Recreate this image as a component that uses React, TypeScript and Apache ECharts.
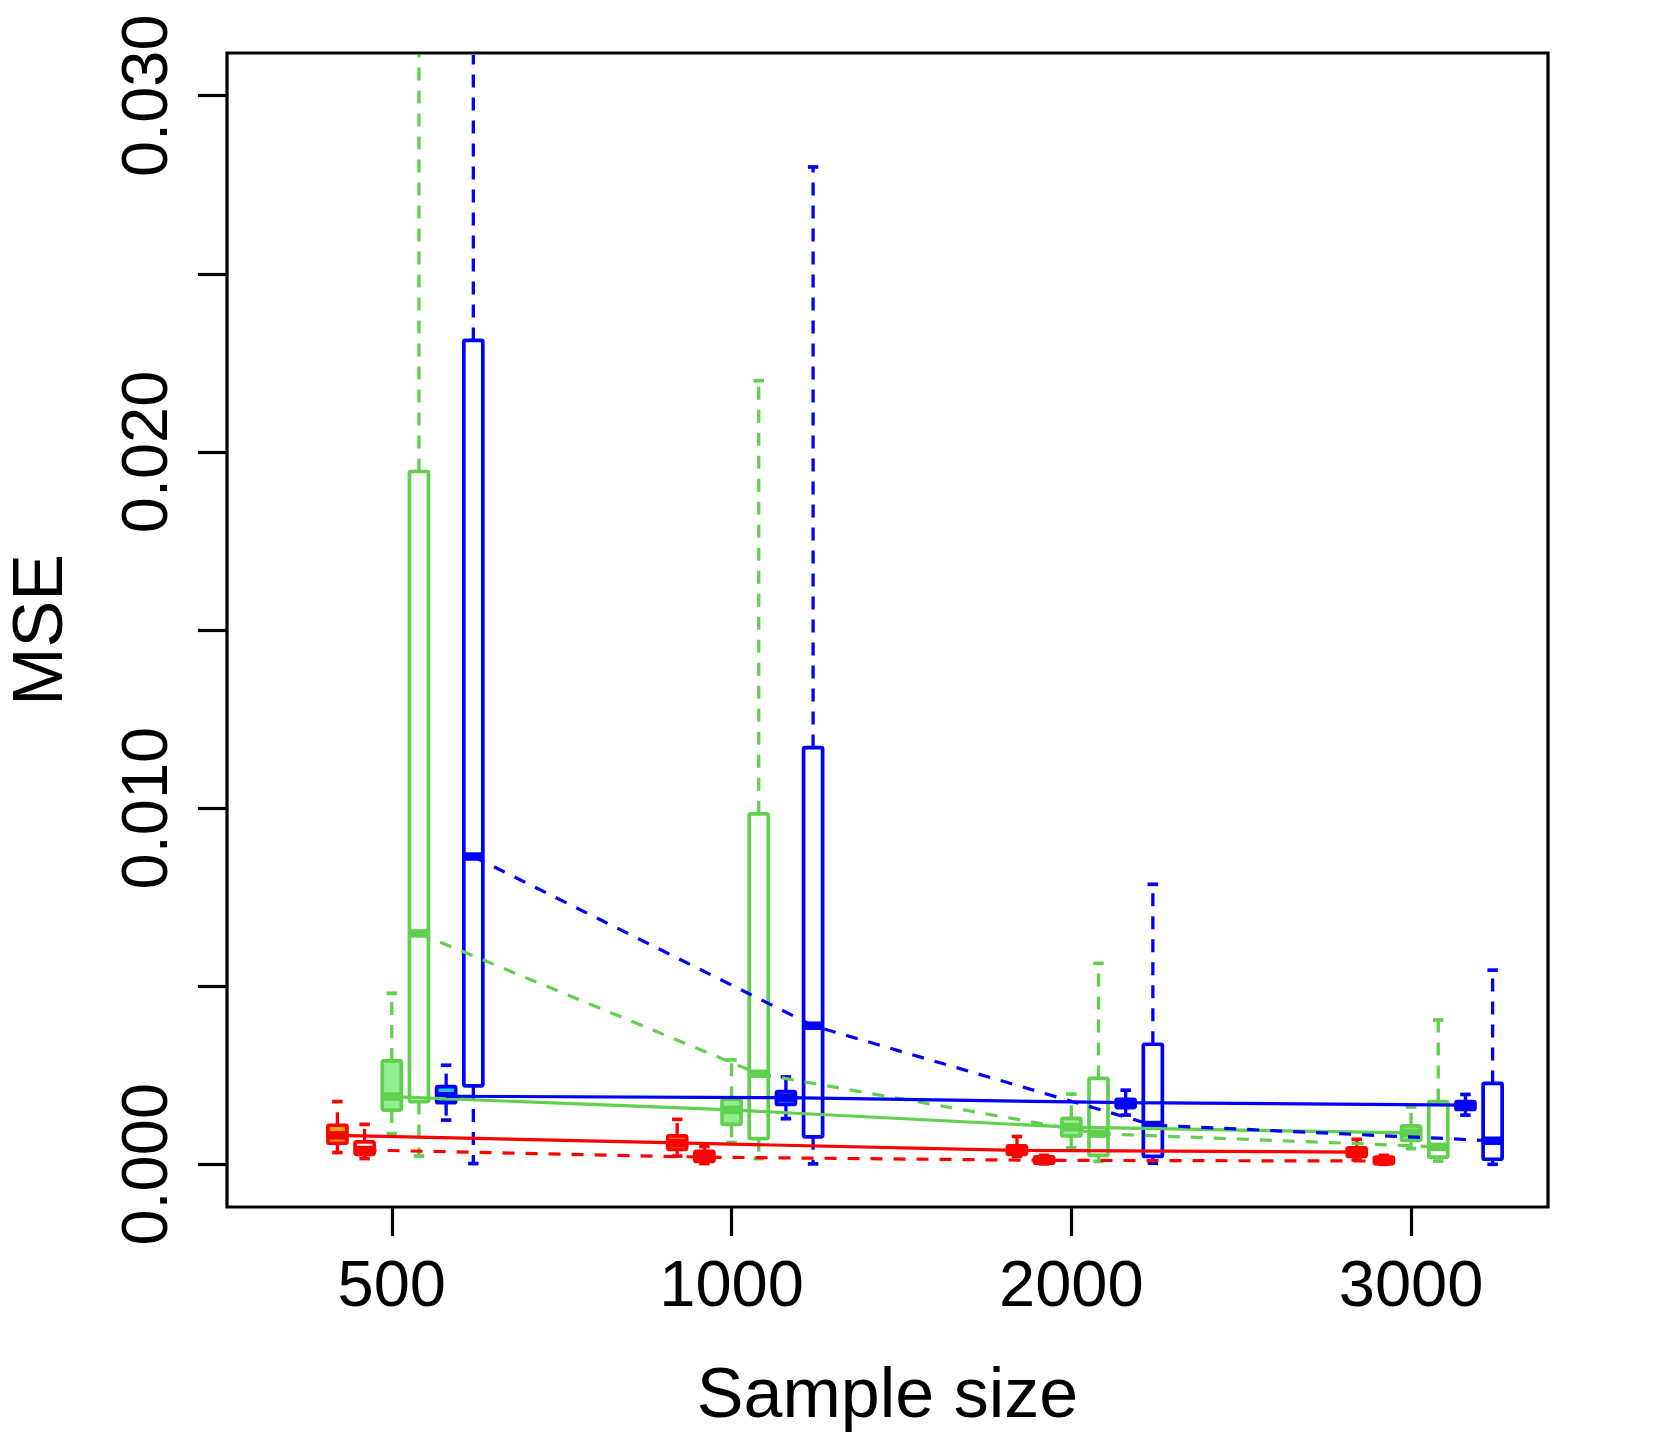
import React, { useEffect, useRef } from 'react';
import * as echarts from 'echarts';

// Sample sizes (x categories)
const sampleSizes = ['500', '1000', '2000', '3000'];
const yTickValues = [0, 0.005, 0.01, 0.015, 0.02, 0.025, 0.03];
const yLabelValues = [0, 0.01, 0.02, 0.03];

// Each row: [lower whisker, Q1, median, Q3, upper whisker] for 500, 1000, 2000, 3000
const redFilled = [
  [0.00033, 0.00059, 0.00081, 0.001095, 0.00176],
  [0.00023, 0.00042, 0.0006, 0.000795, 0.00126],
  [0.00022, 0.00028, 0.00039, 0.000514, 0.00078],
  [0.00012, 0.00022, 0.00034, 0.00046, 0.0007],
];
const redOutline = [
  [0.00016, 0.00028, 0.0004, 0.00063, 0.00112],
  [0.00002, 0.00008, 0.0002, 0.000365, 0.0005],
  [0.00001, 0.00003, 0.00011, 0.00021, 0.00025],
  [0.0, 0.00002, 0.00009, 0.0002, 0.00025],
];
const greenFilled = [
  [0.00086, 0.00152, 0.0019, 0.0029, 0.0048],
  [0.00061, 0.00112, 0.001525, 0.001825, 0.00293],
  [0.00046, 0.000795, 0.00104, 0.00129, 0.00197],
  [0.00044, 0.00067, 0.00088, 0.00108, 0.00161],
];
const greenOutline = [
  [0.00023, 0.00176, 0.00648, 0.01945, 0.036],
  [0.00016, 0.00072, 0.00254, 0.00984, 0.022],
  [0.00008, 0.00025, 0.00086, 0.00241, 0.00564],
  [0.00009, 0.0002, 0.00049, 0.00176, 0.00405],
];
const blueFilled = [
  [0.00124, 0.00173, 0.00191, 0.00218, 0.00278],
  [0.00128, 0.00168, 0.00187, 0.00204, 0.00245],
  [0.00138, 0.00159, 0.00173, 0.001825, 0.00208],
  [0.00138, 0.00154, 0.00166, 0.00176, 0.00196],
];
const blueOutline = [
  [0.00002, 0.0022, 0.00864, 0.02313, 0.04],
  [0.00001, 0.00077, 0.00389, 0.0117, 0.028],
  [0.00003, 0.00022, 0.0011, 0.00337, 0.00786],
  [0.0, 0.00014, 0.00066, 0.00227, 0.00545],
];

const FONT = '"Liberation Sans", Arial, Helvetica, sans-serif';
const OFFSET_STEP = 0.08;
const BOX_HALF = 0.028;
const BORDER_W = 3.7;
const MEDIAN_W = 8.5;

const RED = '#FF0000';
const GREEN = '#61D04F';
const BLUE = '#0000FF';

const seriesDefs = [
  { name: 'red-filled', data: redFilled, offset: -2, color: RED, fill: '#FFA500', dashed: false },
  { name: 'red-outline', data: redOutline, offset: -1, color: RED, fill: null, dashed: true },
  { name: 'green-filled', data: greenFilled, offset: 0, color: GREEN, fill: '#90EE90', dashed: false },
  { name: 'green-outline', data: greenOutline, offset: 1, color: GREEN, fill: null, dashed: true },
  { name: 'blue-filled', data: blueFilled, offset: 2, color: BLUE, fill: '#1EC8FF', dashed: false },
  { name: 'blue-outline', data: blueOutline, offset: 3, color: BLUE, fill: null, dashed: true },
];

function makeBoxSeries(def: any) {
  return {
    type: 'custom',
    name: def.name,
    z: 2,
    data: def.data.map((d: number[], i: number) => [i + 1, ...d]),
    encode: { x: 0, y: [1, 2, 3, 4, 5] },
    renderItem: (params: any, api: any) => {
      const xi = api.value(0);
      const lo = api.value(1);
      const q1 = api.value(2);
      const med = api.value(3);
      const q3 = api.value(4);
      const hi = api.value(5);
      const x = xi + def.offset * OFFSET_STEP;
      const cs = params.coordSys;
      const top = cs.y;
      const cx = api.coord([x, med])[0];
      const yLo = api.coord([x, lo])[1];
      const yQ1 = api.coord([x, q1])[1];
      const yMed = api.coord([x, med])[1];
      const yQ3 = api.coord([x, q3])[1];
      const yHiRaw = api.coord([x, hi])[1];
      const hiClipped = yHiRaw < top;
      const yHi = Math.max(yHiRaw, top + 2);
      const halfW = api.size([BOX_HALF, 0])[0];
      const capHalf = halfW * 0.55;
      const stroke = def.color;
      const children: any[] = [];
      // whiskers
      children.push({
        type: 'line',
        shape: { x1: cx, y1: yQ3, x2: cx, y2: yHi },
        style: { stroke, lineWidth: BORDER_W - 0.4, lineDash: [13, 10] },
      });
      children.push({
        type: 'line',
        shape: { x1: cx, y1: yQ1, x2: cx, y2: yLo },
        style: { stroke, lineWidth: BORDER_W - 0.4, lineDash: [13, 10] },
      });
      if (!hiClipped) {
        children.push({
          type: 'line',
          shape: { x1: cx - capHalf, y1: yHi, x2: cx + capHalf, y2: yHi },
          style: { stroke, lineWidth: BORDER_W },
        });
      }
      children.push({
        type: 'line',
        shape: { x1: cx - capHalf, y1: yLo, x2: cx + capHalf, y2: yLo },
        style: { stroke, lineWidth: BORDER_W },
      });
      // box
      children.push({
        type: 'rect',
        shape: { x: cx - halfW, y: yQ3, width: 2 * halfW, height: yQ1 - yQ3, r: 1.5 },
        style: { fill: def.fill || 'none', stroke, lineWidth: BORDER_W, lineJoin: 'round' },
      });
      // median
      children.push({
        type: 'line',
        shape: { x1: cx - halfW, y1: yMed, x2: cx + halfW, y2: yMed },
        style: { stroke, lineWidth: MEDIAN_W, lineCap: 'butt' },
      });
      return { type: 'group', children };
    },
  };
}

function makeLineSeries(def: any) {
  return {
    type: 'line',
    name: def.name + '-trend',
    z: 3,
    symbol: 'none',
    silent: true,
    data: def.data.map((d: number[], i: number) => [i + 1 + def.offset * OFFSET_STEP, d[2]]),
    lineStyle: {
      color: def.color,
      width: 3.2,
      type: def.dashed ? [12, 11] : 'solid',
    },
  };
}

export default function App() {
  const ref = useRef<HTMLDivElement>(null);
  useEffect(() => {
    document.body.style.margin = '0';
    if (!ref.current) return;
    const chart = echarts.init(ref.current, null, { renderer: 'svg' });
    const option: any = {
      animation: false,
      backgroundColor: '#FFFFFF',
      grid: {
        left: 227,
        top: 53,
        right: 115,
        bottom: 232,
        show: true,
        borderColor: '#000000',
        borderWidth: 3.2,
        backgroundColor: 'transparent',
        containLabel: false,
        outerBoundsMode: 'none',
      },
      xAxis: {
        type: 'value',
        min: 0.515,
        max: 4.403,
        axisLine: { show: false, onZero: false },
        splitLine: { show: false },
        axisTick: {
          show: true,
          length: 29,
          customValues: [1, 2, 3, 4],
          lineStyle: { color: '#000', width: 3.2 },
        },
        axisLabel: {
          customValues: [1, 2, 3, 4],
          formatter: (v: number) => sampleSizes[Math.round(v) - 1] || '',
          fontSize: 65,
          fontFamily: FONT,
          color: '#000',
          margin: 44,
        },
        name: 'Sample size',
        nameLocation: 'middle',
        nameGap: 151,
        nameTextStyle: { fontSize: 70, fontFamily: FONT, color: '#000' },
      },
      yAxis: {
        type: 'value',
        min: -0.0012,
        max: 0.0312,
        axisLine: { show: false, onZero: false },
        splitLine: { show: false },
        axisTick: {
          show: true,
          length: 29,
          customValues: yTickValues,
          lineStyle: { color: '#000', width: 3.2 },
        },
        axisLabel: {
          customValues: yLabelValues,
          formatter: (v: number) => v.toFixed(3),
          rotate: 90,
          fontSize: 65,
          fontFamily: FONT,
          color: '#000',
          margin: 50,
        },
        name: 'MSE',
        nameLocation: 'middle',
        nameGap: 162,
        nameTextStyle: { fontSize: 70, fontFamily: FONT, color: '#000', lineHeight: 54 },
      },
      series: [...seriesDefs.map(makeBoxSeries), ...seriesDefs.map(makeLineSeries)],
    };
    chart.setOption(option);
    return () => chart.dispose();
  }, []);
  return <div ref={ref} style={{ width: 1663, height: 1439 }} />;
}
